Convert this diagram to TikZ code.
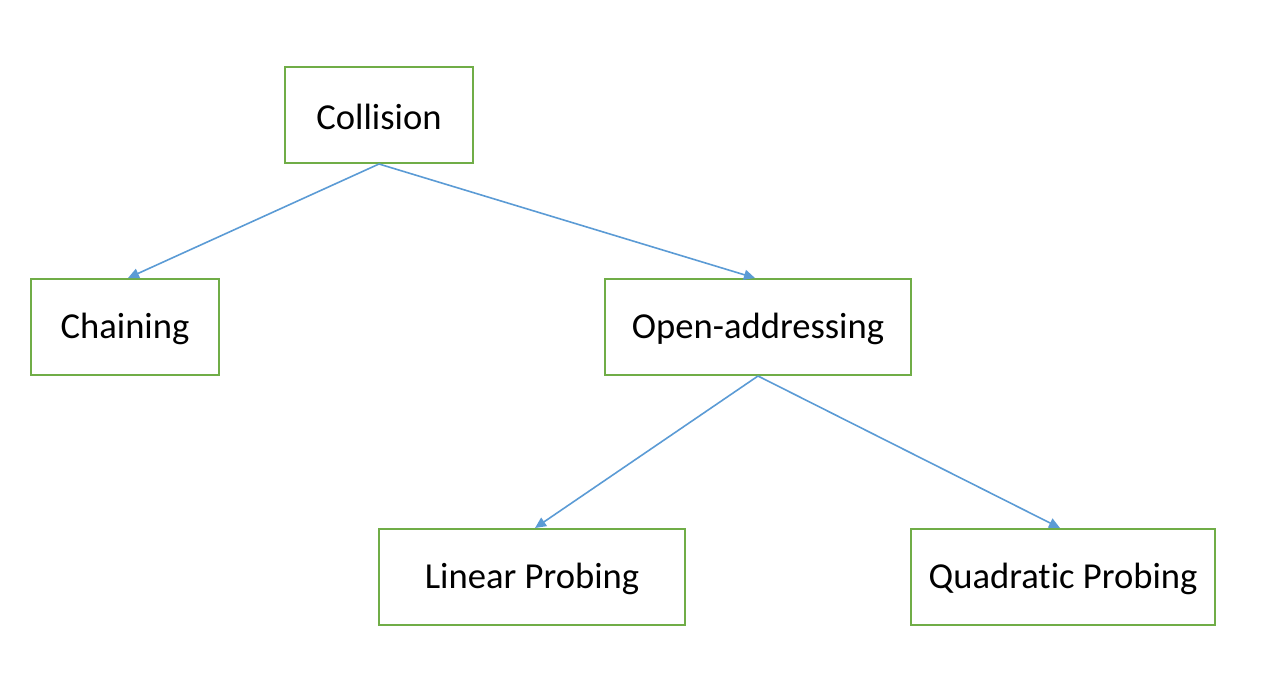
\documentclass[tikz,border=0pt]{standalone}
\usepackage{fontspec}
\setmainfont[Ligatures=NoCommon]{Carlito}
\usetikzlibrary{arrows.meta}
\definecolor{boxgreen}{HTML}{70AD47}
\definecolor{arrblue}{HTML}{5B9BD5}
\begin{document}
\begin{tikzpicture}[x=1pt,y=-1pt,
  box/.style={draw=boxgreen,line width=2pt,fill=white,minimum height=96pt,inner sep=0pt},
  lbl/.style={inner sep=0pt,font=\fontsize{36.6}{44}\selectfont},
  conn/.style={draw=arrblue,line width=1.6pt,-{Triangle[length=11pt,width=10pt]}}]
\useasboundingbox (0,0) rectangle (1278,678);
\node[box,minimum width=188pt] (col) at (379,115) {};
\node[box,minimum width=188pt] (cha) at (125,327) {};
\node[box,minimum width=306pt] (opn) at (758,327) {};
\node[box,minimum width=306pt] (lin) at (532,577) {};
\node[box,minimum width=304pt] (qua) at (1063,577) {};
\node[lbl] (tcol) at ([yshift=-2pt]col.center) {Collision};
\node[lbl] (tcha) at ([yshift=-2pt]cha.center) {Chaining};
\node[lbl] (topn) at ([yshift=-2pt]opn.center) {Open-addressing};
\node[lbl] (tlin) at ([yshift=-2pt]lin.center) {Linear Probing};
\node[lbl] (tqua) at ([yshift=-2pt]qua.center) {Quadratic Probing};
\draw[conn] (col.south) -- ([xshift=3pt]cha.north);
\draw[conn] (col.south) -- ([xshift=-3pt]opn.north);
\draw[conn] (opn.south) -- ([xshift=3pt]lin.north);
\draw[conn] (opn.south) -- ([xshift=-3pt]qua.north);
\end{tikzpicture}
\end{document}
